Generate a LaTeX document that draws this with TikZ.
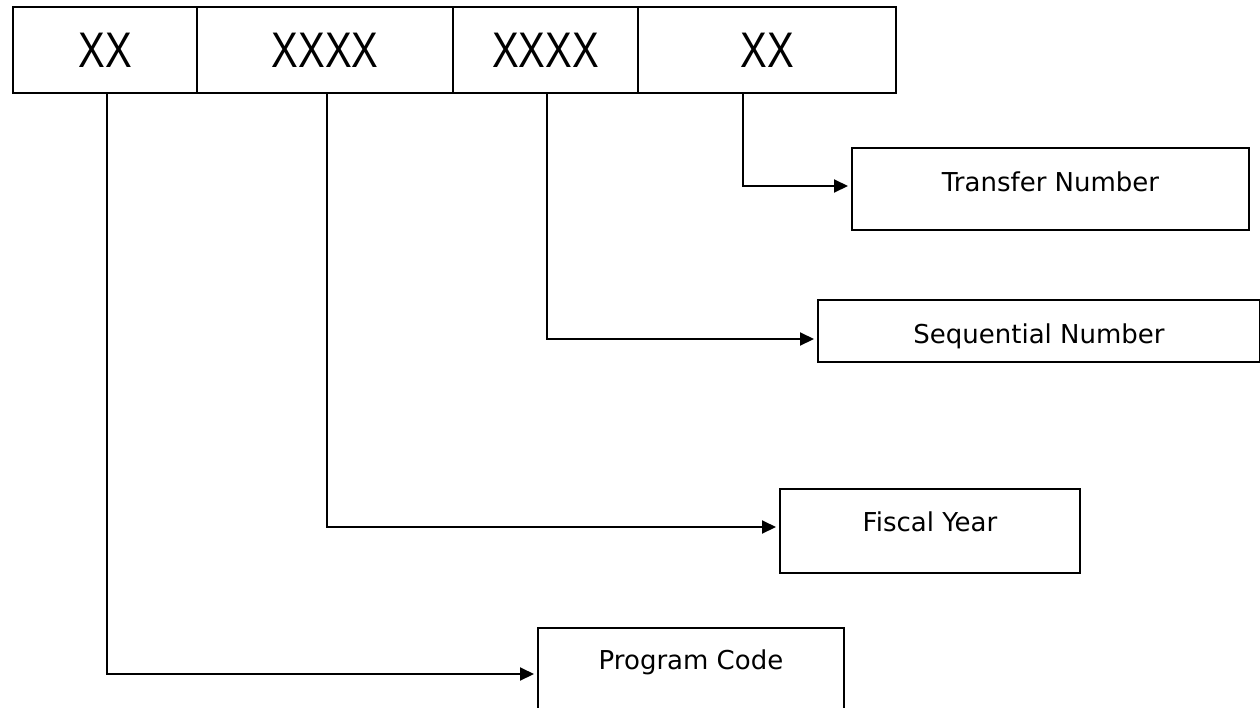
\documentclass[tikz,border=0pt]{standalone}
\usepackage{fontspec}
\setmainfont{DejaVu Sans}
\newfontfamily\cellfont[FakeStretch=0.8]{Liberation Sans}
\usetikzlibrary{arrows.meta}

\begin{document}
\begin{tikzpicture}[x=1pt,y=-1pt,
  cell/.style={draw, line width=1.5pt, inner sep=0pt, minimum height=86pt,
    font=\cellfont\fontsize{50}{50}\selectfont},
  tag/.style={draw, line width=2pt, inner sep=0pt, anchor=north west,
    font=\fontsize{26}{26}\selectfont},
  link/.style={line width=2pt, -{Triangle[length=14pt,width=13pt]}, shorten >=3pt}]
\useasboundingbox (0,0) rectangle (1260,707);
\clip (0,0) rectangle (1260,707);

% the number, field by field
\foreach \n/\x/\w/\t in {c1/105/184pt/XX, c2/325/256pt/XXXX, c3/545.5/185pt/XXXX, c4/767/258pt/XX}
	\node[cell, minimum width=\w] (\n) at (\x,50) {\t};

% what each field stands for
\node[tag, minimum width=397pt, minimum height=82pt, text height=43pt, text depth=39pt] (tn) at (851,147) {Transfer Number};
\node[tag, minimum width=442pt, minimum height=62pt, text height=43pt, text depth=19pt] (sn) at (817,299) {Sequential Number};
\node[tag, minimum width=300pt, minimum height=84pt, text height=42pt, text depth=42pt] (fy) at (779,488) {Fiscal Year};
\node[tag, minimum width=306pt, minimum height=92pt, text height=41pt, text depth=51pt] (pc) at (537,627) {Program Code};

\draw[link] ([xshift=-24pt]c4.south) |- ([yshift=3pt]tn.west);
\draw[link] ([xshift=1.5pt]c3.south) |- ([yshift=-8pt]sn.west);
\draw[link] ([xshift=2pt]c2.south) |- ([yshift=4pt]fy.west);
\draw[link] ([xshift=2pt]c1.south) |- (pc.west);

\end{tikzpicture}
\end{document}
